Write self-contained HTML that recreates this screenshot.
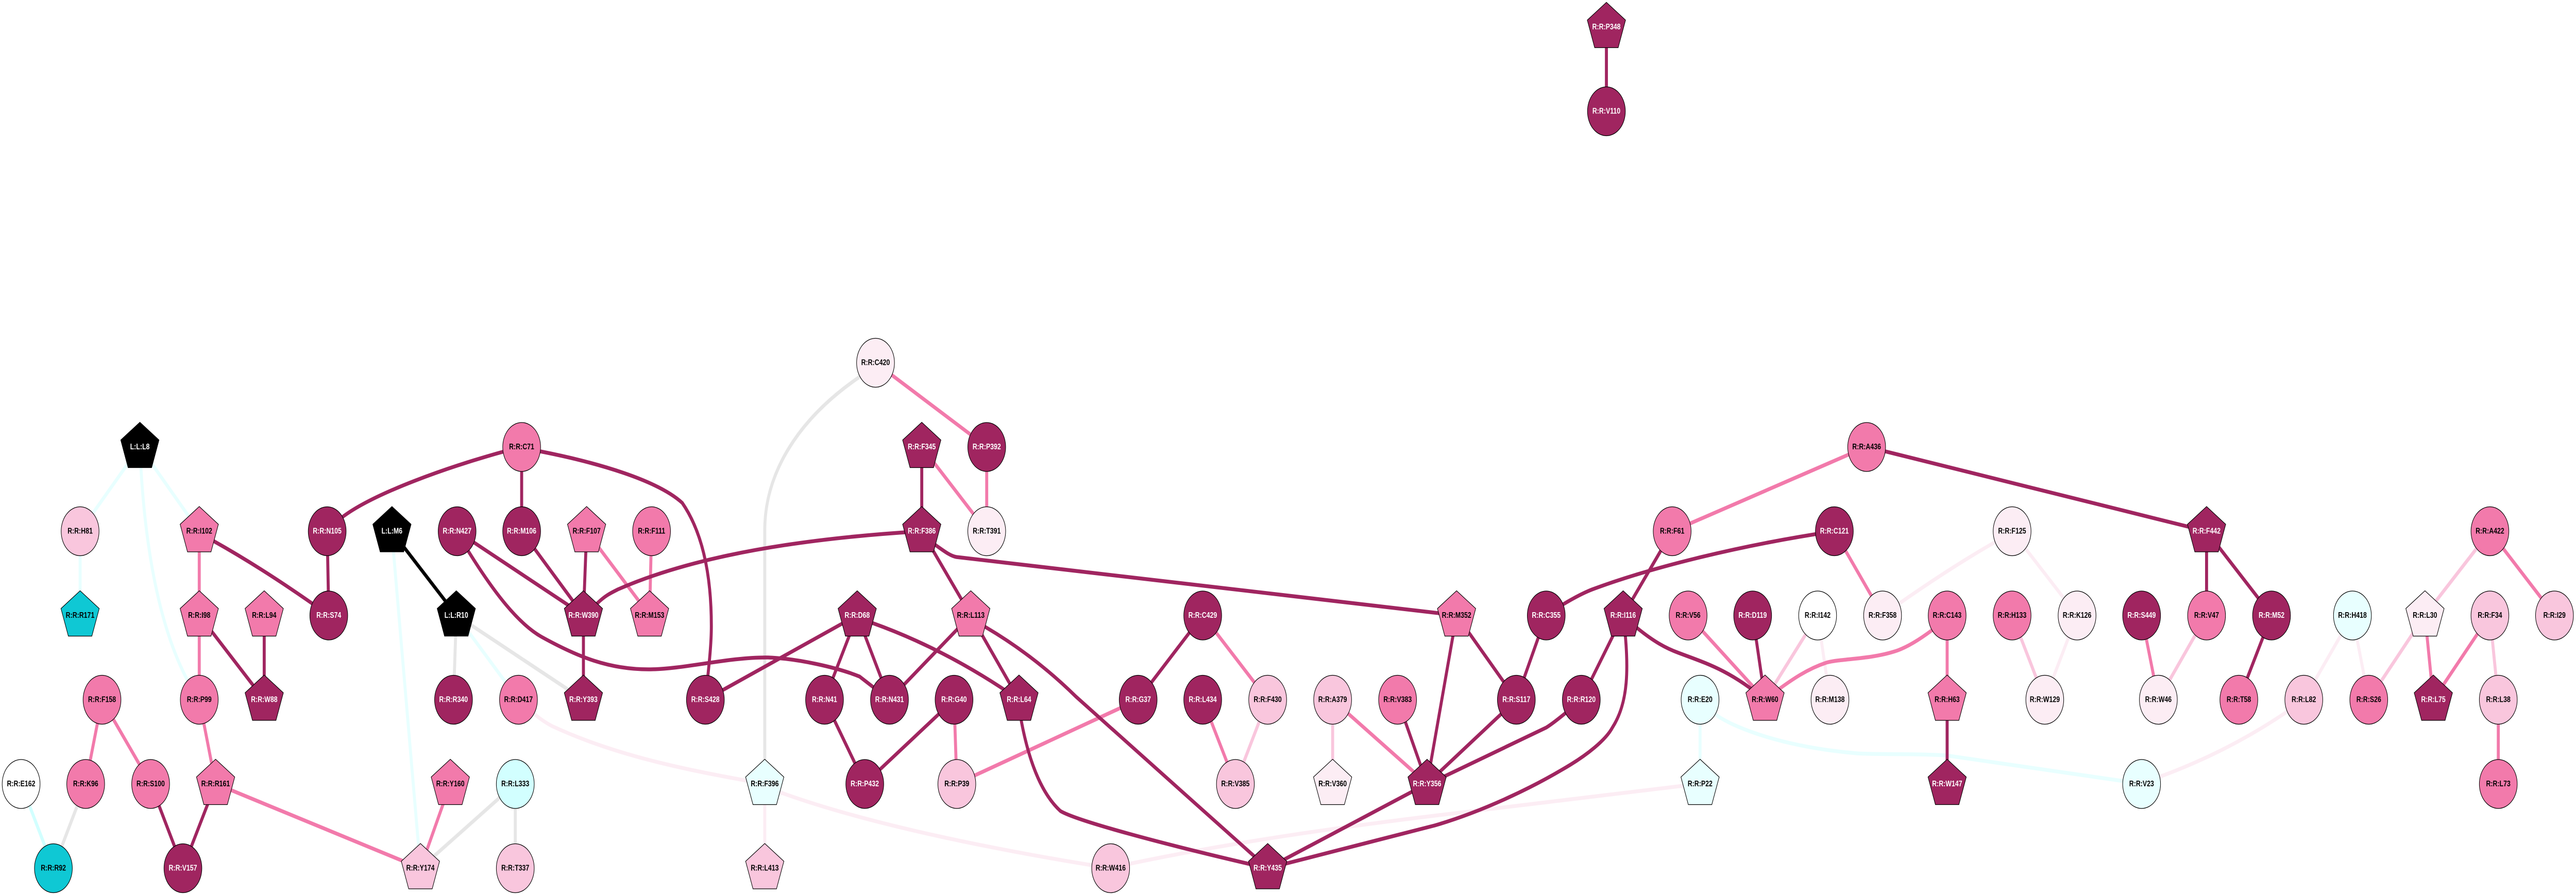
<!DOCTYPE html>
<html><head><meta charset="utf-8"><title>Residue network</title>
<style>
html,body{margin:0;padding:0;background:#fff;width:100%;height:100%;overflow:hidden}
svg{display:block;position:absolute;left:0;top:0;width:100vw;height:100vh}
text{font-family:"Liberation Sans",Arial,sans-serif;font-size:16px;font-weight:bold;text-anchor:middle;fill:#000;stroke:none}
.e path{fill:none;stroke-width:7.5;stroke-linejoin:round}
.n use{stroke:#000;stroke-width:1.3}
.d{fill:#a02560}.k{fill:#000}.p{fill:#f27aab}.l{fill:#f9c6dd}.v{fill:#fcedf4}.w{fill:#fff}.c{fill:#e8ffff}.b{fill:#d2ffff}.t{fill:#0fc8d4}
.d text,.k text{fill:#fff}
</style></head><body>
<svg xmlns="http://www.w3.org/2000/svg" viewBox="0 0 6464 1735" preserveAspectRatio="none">
<defs>
<circle id="c" r="47.5"/>
<polygon id="p" points="0,-48 48,-13.5 29.5,40 -29.5,40 -48,-13.5"/>
</defs>
<rect width="6464" height="1735" fill="#fff"/>

<g class="e" stroke="#e8ffff">
<path d="M351,867 L201,1031"/>
<path d="M351,867 L500,1031"/>
<path d="M351,867 C360,1040 395,1240 500,1358"/>
<path d="M201,1031 L201,1194"/>
<path d="M983,1031 L1055,1685"/>
<path d="M1145,1194 L1301,1358"/>
<path d="M4266,1358 L4266,1521"/>
<path d="M4266,1358 L4311,1390 C4360,1415 4480,1450 4659,1462 C4720,1465 4800,1462 4883,1466 L5374,1521"/>
</g>
<g class="e" stroke="#d2ffff"><path d="M53,1521 L134,1685"/></g>
<g class="e" stroke="#e6e6e6">
<path d="M215,1521 L134,1685"/>
<path d="M1145,1194 L1138,1358"/>
<path d="M1145,1194 L1464,1358"/>
<path d="M1293,1521 L1055,1685"/>
<path d="M1293,1521 L1293,1685"/>
<path d="M2197,704 L2154,733 C2000,815 1919,920 1919,1029 L1919,1521"/>
</g>
<g class="e" stroke="#fcedf4">
<path d="M1301,1358 L1343,1387 C1360,1398 1375,1405 1385,1409 C1540,1465 1720,1495 1919,1521"/>
<path d="M1919,1521 L1919,1685"/>
<path d="M1919,1521 L1959,1538 C2180,1600 2500,1650 2787,1685"/>
<path d="M2787,1685 L2837,1676 Q3150,1625 3600,1583 L4266,1521"/>
<path d="M4561,1194 L4592,1358"/>
<path d="M5374,1521 L5421,1507 Q5620,1450 5781,1358"/>
<path d="M5049,1031 L5004,1053 Q4880,1108 4724,1194"/>
<path d="M5049,1031 L5212,1194"/>
<path d="M5212,1194 L5131,1358"/>
<path d="M5903,1194 L5781,1358"/>
<path d="M5903,1194 L5944,1358"/>
</g>
<g class="e" stroke="#f9c6dd">
<path d="M3181,1358 L3100,1521"/>
<path d="M3344,1358 L3344,1521"/>
<path d="M4561,1194 L4429,1358"/>
<path d="M5049,1194 L5131,1358"/>
<path d="M5537,1194 L5416,1358"/>
<path d="M5944,1358 L6085,1194"/>
<path d="M6248,1031 L6085,1194"/>
<path d="M6248,1194 L6269,1358"/>
</g>
<g class="e" stroke="#f27aab">
<path d="M500,1031 L500,1358"/>
<path d="M500,1358 L541,1521"/>
<path d="M256,1358 L215,1521"/>
<path d="M256,1358 L378,1521"/>
<path d="M541,1521 L1055,1685"/>
<path d="M1472,1031 L1630,1194"/>
<path d="M1635,1031 L1630,1194"/>
<path d="M1130,1521 L1055,1685"/>
<path d="M2197,704 L2476,867"/>
<path d="M2476,867 L2476,1031"/>
<path d="M2313,867 L2476,1031"/>
<path d="M2394,1358 L2401,1521"/>
<path d="M2401,1521 L2856,1358"/>
<path d="M3018,1194 L3181,1358"/>
<path d="M3018,1358 L3100,1521"/>
<path d="M3344,1358 L3581,1521"/>
<path d="M4196,1031 L4684,867"/>
<path d="M4236,1194 L4429,1358"/>
<path d="M4886,1194 L4848,1223 C4810,1245 4780,1258 4755,1264 C4690,1280 4620,1278 4583,1286 C4540,1297 4500,1315 4429,1358"/>
<path d="M4603,1031 L4724,1194"/>
<path d="M4886,1194 L4886,1358"/>
<path d="M5374,1194 L5416,1358"/>
<path d="M6085,1194 L6106,1358"/>
<path d="M6248,1194 L6106,1358"/>
<path d="M6269,1358 L6269,1521"/>
<path d="M6248,1031 L6410,1194"/>
</g>
<g class="e" stroke="#a02560">
<path d="M4031,52 L4031,216"/>
<path d="M500,1031 L536,1050 Q670,1108 825,1194"/>
<path d="M821,1031 L825,1194"/>
<path d="M500,1194 L663,1358"/>
<path d="M663,1194 L663,1358"/>
<path d="M378,1521 L459,1685"/>
<path d="M541,1521 L459,1685"/>
<path d="M821,1031 L855,1006 C930,960 1120,905 1309,867"/>
<path d="M1309,867 L1309,1031"/>
<path d="M1309,867 L1356,876 C1500,898 1650,932 1712,976 C1760,1030 1785,1110 1785,1215 C1785,1250 1780,1285 1770,1358"/>
<path d="M1147,1031 L1464,1194"/>
<path d="M1147,1031 L1177,1072 C1240,1150 1300,1210 1359,1236 C1450,1275 1530,1300 1633,1299 C1720,1298 1830,1275 1927,1276 C2000,1278 2100,1295 2157,1313 L2232,1358"/>
<path d="M1309,1031 L1464,1194"/>
<path d="M1472,1031 L1464,1194"/>
<path d="M1464,1194 L1464,1358"/>
<path d="M1464,1194 L1500,1170 C1520,1155 1535,1150 1550,1144 C1680,1100 1900,1050 2313,1031"/>
<path d="M2313,867 L2313,1031"/>
<path d="M2313,1031 L2436,1194"/>
<path d="M2313,1031 L2348,1058 C2370,1070 2385,1079 2400,1081 L3655,1194"/>
<path d="M2151,1194 L1770,1358"/>
<path d="M2151,1194 L2069,1358"/>
<path d="M2151,1194 L2232,1358"/>
<path d="M2151,1194 L2189,1209 Q2380,1262 2557,1358"/>
<path d="M2436,1194 L2232,1358"/>
<path d="M2436,1194 L2557,1358"/>
<path d="M2436,1194 L2473,1217 C2550,1252 2625,1295 2700,1352 L3181,1685"/>
<path d="M2069,1358 L2170,1521"/>
<path d="M2394,1358 L2170,1521"/>
<path d="M2557,1358 L2563,1400 C2585,1490 2620,1545 2661,1574 C2700,1592 2900,1635 3181,1685"/>
<path d="M3018,1194 L2856,1358"/>
<path d="M3507,1358 L3581,1521"/>
<path d="M3655,1194 L3581,1521"/>
<path d="M3655,1194 L3805,1358"/>
<path d="M3880,1194 L3805,1358"/>
<path d="M3581,1521 L3805,1358"/>
<path d="M3581,1521 L3629,1505 L3880,1412 Q3905,1400 3968,1358"/>
<path d="M3581,1521 L3181,1685"/>
<path d="M3181,1685 L3600,1602 C3720,1575 3840,1530 3919,1494 C3985,1465 4030,1435 4046,1412 C4085,1365 4090,1300 4073,1194"/>
<path d="M4073,1194 L4196,1031"/>
<path d="M4073,1194 L3968,1358"/>
<path d="M4073,1194 L4110,1220 C4150,1245 4180,1258 4212,1267 C4280,1287 4340,1300 4429,1358"/>
<path d="M3880,1194 L3922,1173 C3950,1160 3975,1150 3995,1144 C4130,1105 4350,1060 4603,1031"/>
<path d="M4398,1194 L4429,1358"/>
<path d="M4886,1358 L4886,1521"/>
<path d="M4684,867 L5537,1031"/>
<path d="M5537,1031 L5537,1194"/>
<path d="M5537,1031 L5700,1194"/>
<path d="M5700,1194 L5618,1358"/>
</g>
<g class="e" stroke="#000"><path d="M983,1031 L1145,1194"/></g>

<g class="n">
<g class="d" transform="translate(4031,52.5)"><use href="#p"/><text y="4.5">R:R:P348</text></g>
<g class="d" transform="translate(4031,216)"><use href="#c"/><text y="4.5">R:R:V110</text></g>
<g class="v" transform="translate(2197,704)"><use href="#c"/><text y="4.5">R:R:C420</text></g>

<g class="k" transform="translate(351,867.5)"><use href="#p"/><text y="4.5">L:L:L8</text></g>
<g class="p" transform="translate(1309,867.5)"><use href="#c"/><text y="4.5">R:R:C71</text></g>
<g class="d" transform="translate(2313,867.5)"><use href="#p"/><text y="4.5">R:R:F345</text></g>
<g class="d" transform="translate(2476,867.5)"><use href="#c"/><text y="4.5">R:R:P392</text></g>
<g class="p" transform="translate(4684,867.5)"><use href="#c"/><text y="4.5">R:R:A436</text></g>

<g class="l" transform="translate(201,1031)"><use href="#c"/><text y="4.5">R:R:H81</text></g>
<g class="p" transform="translate(500,1031)"><use href="#p"/><text y="4.5">R:R:I102</text></g>
<g class="d" transform="translate(821,1031)"><use href="#c"/><text y="4.5">R:R:N105</text></g>
<g class="k" transform="translate(983.5,1031)"><use href="#p"/><text y="4.5">L:L:M6</text></g>
<g class="d" transform="translate(1147,1031)"><use href="#c"/><text y="4.5">R:R:N427</text></g>
<g class="d" transform="translate(1309,1031)"><use href="#c"/><text y="4.5">R:R:M106</text></g>
<g class="p" transform="translate(1472,1031)"><use href="#p"/><text y="4.5">R:R:F107</text></g>
<g class="p" transform="translate(1635,1031)"><use href="#c"/><text y="4.5">R:R:F111</text></g>
<g class="d" transform="translate(2313,1031)"><use href="#p"/><text y="4.5">R:R:F386</text></g>
<g class="v" transform="translate(2476,1031)"><use href="#c"/><text y="4.5">R:R:T391</text></g>
<g class="p" transform="translate(4196,1031)"><use href="#c"/><text y="4.5">R:R:F61</text></g>
<g class="d" transform="translate(4603,1031)"><use href="#c"/><text y="4.5">R:R:C121</text></g>
<g class="v" transform="translate(5049,1031)"><use href="#c"/><text y="4.5">R:R:F125</text></g>
<g class="d" transform="translate(5537,1031)"><use href="#p"/><text y="4.5">R:R:F442</text></g>
<g class="p" transform="translate(6248,1031)"><use href="#c"/><text y="4.5">R:R:A422</text></g>

<g class="t" transform="translate(201,1194.5)"><use href="#p"/><text y="4.5">R:R:R171</text></g>
<g class="p" transform="translate(500,1194.5)"><use href="#p"/><text y="4.5">R:R:I98</text></g>
<g class="p" transform="translate(663,1194.5)"><use href="#p"/><text y="4.5">R:R:L94</text></g>
<g class="d" transform="translate(825,1194.5)"><use href="#c"/><text y="4.5">R:R:S74</text></g>
<g class="k" transform="translate(1145,1194.5)"><use href="#p"/><text y="4.5">L:L:R10</text></g>
<g class="d" transform="translate(1464,1194.5)"><use href="#p"/><text y="4.5">R:R:W390</text></g>
<g class="p" transform="translate(1630,1194.5)"><use href="#p"/><text y="4.5">R:R:M153</text></g>
<g class="d" transform="translate(2151,1194.5)"><use href="#p"/><text y="4.5">R:R:D68</text></g>
<g class="p" transform="translate(2436,1194.5)"><use href="#p"/><text y="4.5">R:R:L113</text></g>
<g class="d" transform="translate(3018,1194.5)"><use href="#c"/><text y="4.5">R:R:C429</text></g>
<g class="p" transform="translate(3655,1194.5)"><use href="#p"/><text y="4.5">R:R:M352</text></g>
<g class="d" transform="translate(3880,1194.5)"><use href="#c"/><text y="4.5">R:R:C355</text></g>
<g class="d" transform="translate(4073,1194.5)"><use href="#p"/><text y="4.5">R:R:I116</text></g>
<g class="p" transform="translate(4236,1194.5)"><use href="#c"/><text y="4.5">R:R:V56</text></g>
<g class="d" transform="translate(4398,1194.5)"><use href="#c"/><text y="4.5">R:R:D119</text></g>
<g class="w" transform="translate(4561,1194.5)"><use href="#c"/><text y="4.5">R:R:I142</text></g>
<g class="v" transform="translate(4724,1194.5)"><use href="#c"/><text y="4.5">R:R:F358</text></g>
<g class="p" transform="translate(4886,1194.5)"><use href="#c"/><text y="4.5">R:R:C143</text></g>
<g class="p" transform="translate(5049,1194.5)"><use href="#c"/><text y="4.5">R:R:H133</text></g>
<g class="v" transform="translate(5212,1194.5)"><use href="#c"/><text y="4.5">R:R:K126</text></g>
<g class="d" transform="translate(5374,1194.5)"><use href="#c"/><text y="4.5">R:R:S449</text></g>
<g class="p" transform="translate(5537,1194.5)"><use href="#c"/><text y="4.5">R:R:V47</text></g>
<g class="d" transform="translate(5700,1194.5)"><use href="#c"/><text y="4.5">R:R:M52</text></g>
<g class="c" transform="translate(5903,1194.5)"><use href="#c"/><text y="4.5">R:R:H418</text></g>
<g class="v" transform="translate(6085,1194.5)"><use href="#p"/><text y="4.5">R:R:L30</text></g>
<g class="l" transform="translate(6248,1194.5)"><use href="#c"/><text y="4.5">R:R:F34</text></g>
<g class="l" transform="translate(6410,1194.5)"><use href="#c"/><text y="4.5">R:R:I29</text></g>

<g class="p" transform="translate(256,1358)"><use href="#c"/><text y="4.5">R:R:F158</text></g>
<g class="p" transform="translate(500,1358)"><use href="#c"/><text y="4.5">R:R:P99</text></g>
<g class="d" transform="translate(663,1358)"><use href="#p"/><text y="4.5">R:R:W88</text></g>
<g class="d" transform="translate(1138,1358)"><use href="#c"/><text y="4.5">R:R:R340</text></g>
<g class="p" transform="translate(1301,1358)"><use href="#c"/><text y="4.5">R:R:D417</text></g>
<g class="d" transform="translate(1464,1358)"><use href="#p"/><text y="4.5">R:R:Y393</text></g>
<g class="d" transform="translate(1770,1358)"><use href="#c"/><text y="4.5">R:R:S428</text></g>
<g class="d" transform="translate(2069,1358)"><use href="#c"/><text y="4.5">R:R:N41</text></g>
<g class="d" transform="translate(2232,1358)"><use href="#c"/><text y="4.5">R:R:N431</text></g>
<g class="d" transform="translate(2394,1358)"><use href="#c"/><text y="4.5">R:R:G40</text></g>
<g class="d" transform="translate(2557,1358)"><use href="#p"/><text y="4.5">R:R:L64</text></g>
<g class="d" transform="translate(2856,1358)"><use href="#c"/><text y="4.5">R:R:G37</text></g>
<g class="d" transform="translate(3018,1358)"><use href="#c"/><text y="4.5">R:R:L434</text></g>
<g class="l" transform="translate(3181,1358)"><use href="#c"/><text y="4.5">R:R:F430</text></g>
<g class="l" transform="translate(3344,1358)"><use href="#c"/><text y="4.5">R:R:A379</text></g>
<g class="p" transform="translate(3507,1358)"><use href="#c"/><text y="4.5">R:R:V383</text></g>
<g class="d" transform="translate(3805,1358)"><use href="#c"/><text y="4.5">R:R:S117</text></g>
<g class="d" transform="translate(3968,1358)"><use href="#c"/><text y="4.5">R:R:R120</text></g>
<g class="c" transform="translate(4266,1358)"><use href="#c"/><text y="4.5">R:R:E20</text></g>
<g class="p" transform="translate(4429,1358)"><use href="#p"/><text y="4.5">R:R:W60</text></g>
<g class="v" transform="translate(4592,1358)"><use href="#c"/><text y="4.5">R:R:M138</text></g>
<g class="p" transform="translate(4886,1358)"><use href="#p"/><text y="4.5">R:R:H63</text></g>
<g class="v" transform="translate(5131,1358)"><use href="#c"/><text y="4.5">R:R:W129</text></g>
<g class="v" transform="translate(5416,1358)"><use href="#c"/><text y="4.5">R:R:W46</text></g>
<g class="p" transform="translate(5618,1358)"><use href="#c"/><text y="4.5">R:R:T58</text></g>
<g class="l" transform="translate(5781,1358)"><use href="#c"/><text y="4.5">R:R:L82</text></g>
<g class="p" transform="translate(5944,1358)"><use href="#c"/><text y="4.5">R:R:S26</text></g>
<g class="d" transform="translate(6106,1358)"><use href="#p"/><text y="4.5">R:R:L75</text></g>
<g class="l" transform="translate(6269,1358)"><use href="#c"/><text y="4.5">R:R:L38</text></g>

<g class="w" transform="translate(53,1521.5)"><use href="#c"/><text y="4.5">R:R:E162</text></g>
<g class="p" transform="translate(215,1521.5)"><use href="#c"/><text y="4.5">R:R:K96</text></g>
<g class="p" transform="translate(378,1521.5)"><use href="#c"/><text y="4.5">R:R:S100</text></g>
<g class="p" transform="translate(541,1521.5)"><use href="#p"/><text y="4.5">R:R:R161</text></g>
<g class="p" transform="translate(1130,1521.5)"><use href="#p"/><text y="4.5">R:R:Y160</text></g>
<g class="b" transform="translate(1293,1521.5)"><use href="#c"/><text y="4.5">R:R:L333</text></g>
<g class="c" transform="translate(1919,1521.5)"><use href="#p"/><text y="4.5">R:R:F396</text></g>
<g class="d" transform="translate(2170,1521.5)"><use href="#c"/><text y="4.5">R:R:P432</text></g>
<g class="l" transform="translate(2401,1521.5)"><use href="#c"/><text y="4.5">R:R:P39</text></g>
<g class="l" transform="translate(3100,1521.5)"><use href="#c"/><text y="4.5">R:R:V385</text></g>
<g class="v" transform="translate(3344,1521.5)"><use href="#p"/><text y="4.5">R:R:V360</text></g>
<g class="d" transform="translate(3581,1521.5)"><use href="#p"/><text y="4.5">R:R:Y356</text></g>
<g class="c" transform="translate(4266,1521.5)"><use href="#p"/><text y="4.5">R:R:P22</text></g>
<g class="d" transform="translate(4886,1521.5)"><use href="#p"/><text y="4.5">R:R:W147</text></g>
<g class="c" transform="translate(5374,1521.5)"><use href="#c"/><text y="4.5">R:R:V23</text></g>
<g class="p" transform="translate(6269,1521.5)"><use href="#c"/><text y="4.5">R:R:L73</text></g>

<g class="t" transform="translate(134,1685)"><use href="#c"/><text y="4.5">R:R:R92</text></g>
<g class="d" transform="translate(459,1685)"><use href="#c"/><text y="4.5">R:R:V157</text></g>
<g class="l" transform="translate(1055,1685)"><use href="#p"/><text y="4.5">R:R:Y174</text></g>
<g class="l" transform="translate(1293,1685)"><use href="#c"/><text y="4.5">R:R:T337</text></g>
<g class="l" transform="translate(1919,1685)"><use href="#p"/><text y="4.5">R:R:L413</text></g>
<g class="l" transform="translate(2787,1685)"><use href="#c"/><text y="4.5">R:R:W416</text></g>
<g class="d" transform="translate(3181,1685)"><use href="#p"/><text y="4.5">R:R:Y435</text></g>
</g>
</svg>
</body></html>
